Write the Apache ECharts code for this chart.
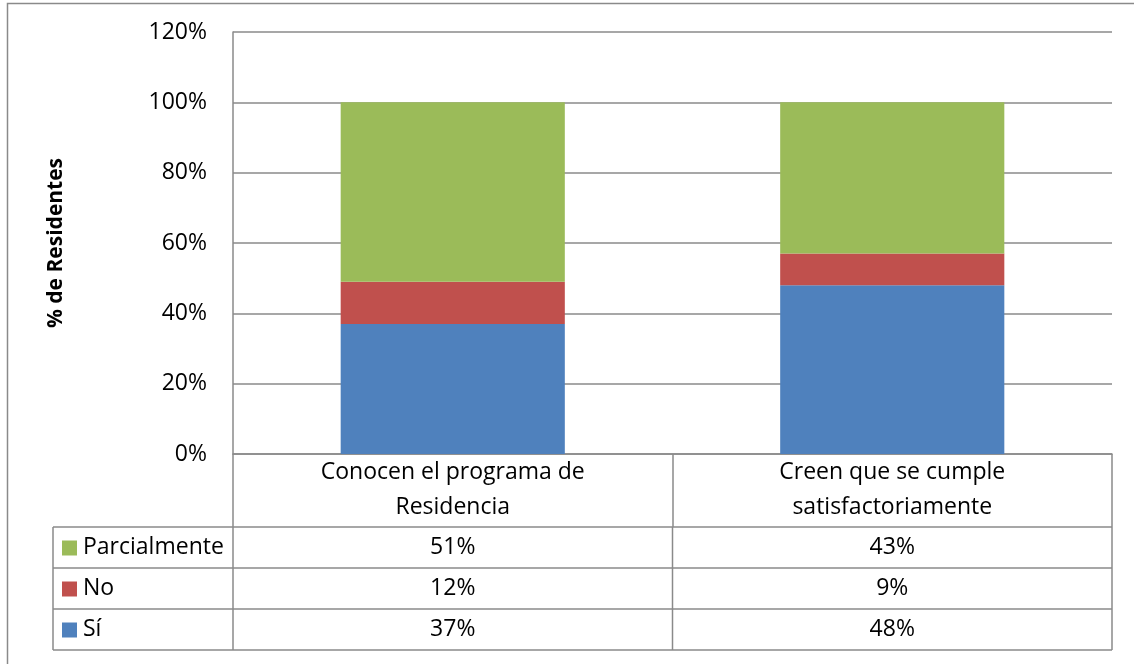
<!DOCTYPE html>
<html>
<head>
<meta charset="utf-8">
<script src="https://cdn.jsdelivr.net/npm/echarts@6/dist/echarts.min.js"></script>
<style>
  html, body { margin: 0; padding: 0; background: #fff; }
  #chart { width: 1134px; height: 664px; }
</style>
</head>
<body>
<div id="chart"></div>
<script>
// data
const categories = ['Conocen el programa de\nResidencia', 'Creen que se cumple\nsatisfactoriamente']
const siValues = [37, 48]
const noValues = [12, 9]
const parcialValues = [51, 43]
const seriesNames = ['Sí', 'No', 'Parcialmente']
const seriesColors = ['#4F81BD', '#C0504D', '#9BBB59']
const yMin = 0
const yMax = 120
const yStep = 20

const FONT = 'Open Sans'
const FONT_SIZE = 23
const LINE = '#8a8a8a'
const ROW_H = 41
const HEADER_H = 73

const chart = echarts.init(document.getElementById('chart'))

const seriesValues = [siValues, noValues, parcialValues]
const seriesData = seriesNames.map((name, i) => ({
  name: name,
  type: 'bar',
  stack: 'total',
  barWidth: '51%',
  itemStyle: { color: seriesColors[i] },
  data: seriesValues[i]
}))

chart.setOption({
  animation: false,
  backgroundColor: '#fff',
  grid: { left: 233, right: 22, top: 32, bottom: 210 },
  xAxis: {
    type: 'category',
    data: categories,
    axisLine: { lineStyle: { color: LINE, width: 1.5 } },
    axisTick: { show: true, length: HEADER_H, interval: 0, lineStyle: { color: LINE, width: 1.5 } },
    axisLabel: {
      interval: 0,
      margin: 1,
      color: '#000',
      fontFamily: FONT,
      fontSize: FONT_SIZE,
      lineHeight: 35
    }
  },
  yAxis: {
    type: 'value',
    min: yMin,
    max: yMax,
    interval: yStep,
    name: '% de Residentes',
    nameLocation: 'middle',
    nameRotate: 90,
    nameGap: 166,
    nameTextStyle: { color: '#000', fontFamily: FONT, fontSize: 21, fontWeight: 'bold' },
    axisLine: { show: true, lineStyle: { color: LINE, width: 1.5 } },
    axisTick: { show: false },
    axisLabel: {
      margin: 26,
      color: '#000',
      fontFamily: FONT,
      fontSize: FONT_SIZE,
      formatter: v => v + '%'
    },
    splitLine: { lineStyle: { color: LINE, width: 1.5 } }
  },
  series: seriesData
})

// data table under the plot, built from the same arrays
function buildTable () {
  const c0 = chart.convertToPixel({ xAxisIndex: 0 }, 0)
  const c1 = chart.convertToPixel({ xAxisIndex: 0 }, 1)
  const band = c1 - c0
  const left = c0 - band / 2
  const right = c1 + band / 2
  const y0 = chart.convertToPixel({ yAxisIndex: 0 }, 0)
  const top = y0 + HEADER_H
  const tableLeft = 53
  const centers = [c0, c1]

  // rows from top to bottom: Parcialmente, No, Sí
  const rowOrder = [2, 1, 0]
  const els = []
  const line = (x1, y1, x2, y2) => ({
    type: 'line',
    shape: { x1, y1, x2, y2 },
    style: { stroke: LINE, lineWidth: 1.5 },
    silent: true
  })

  for (let r = 0; r <= rowOrder.length; r++) {
    els.push(line(tableLeft, top + r * ROW_H, right, top + r * ROW_H))
  }
  const bottom = top + rowOrder.length * ROW_H
  els.push(line(tableLeft, top, tableLeft, bottom))
  els.push(line(left, top, left, bottom))
  els.push(line(c0 + band / 2, top, c0 + band / 2, bottom))
  els.push(line(right, top, right, bottom))

  const font = FONT_SIZE + 'px "' + FONT + '"'
  rowOrder.forEach((s, r) => {
    const cy = top + r * ROW_H + ROW_H / 2
    els.push({
      type: 'rect',
      shape: { x: 62, y: cy - 7, width: 15, height: 15 },
      style: { fill: seriesColors[s] },
      silent: true
    })
    els.push({
      type: 'text',
      x: 83,
      y: cy,
      style: { text: seriesNames[s], fill: '#000', font: font, verticalAlign: 'middle', align: 'left' },
      silent: true
    })
    seriesValues[s].forEach((v, c) => {
      els.push({
        type: 'text',
        x: centers[c],
        y: cy,
        style: { text: v + '%', fill: '#000', font: font, verticalAlign: 'middle', align: 'center' },
        silent: true
      })
    })
  })

  // outer chart border
  els.push({
    type: 'rect',
    shape: { x: 7.5, y: 3.5, width: 1140, height: 700 },
    style: { fill: null, stroke: LINE, lineWidth: 1.5 },
    silent: true
  })

  chart.setOption({ graphic: els })
}
buildTable()
</script>
</body>
</html>
